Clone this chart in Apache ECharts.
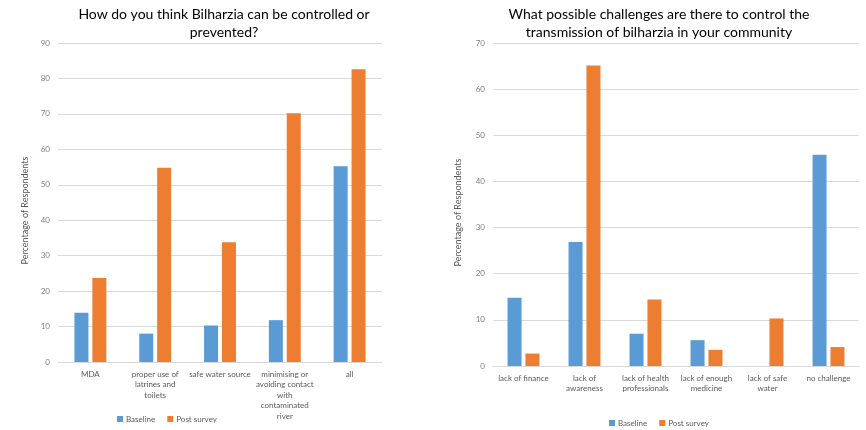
<!DOCTYPE html>
<html>
<head>
<meta charset="utf-8">
<script src="https://cdn.jsdelivr.net/npm/echarts@6/dist/echarts.min.js"></script>
<style>
  html, body { margin: 0; padding: 0; background: #fff; }
  #main { width: 866px; height: 430px; }
</style>
</head>
<body>
<div id="main"></div>
<script>
// left chart: how can bilharzia be controlled
var controlCats = ['MDA', 'proper use of\nlatrines and\ntoilets', 'safe water source',
  'minimising or\navoiding contact\nwith\ncontaminated\nriver', 'all'];
var controlBaseline = [13.9, 8, 10.3, 11.8, 55.2];
var controlPost = [23.7, 54.8, 33.8, 70.2, 82.6];

// right chart: challenges
var challengeCats = ['lack of finance', 'lack of\nawareness', 'lack of health\nprofessionals',
  'lack of enough\nmedicine', 'lack of safe\nwater', 'no challenge'];
var challengeBaseline = [14.8, 26.9, 7.0, 5.6, 0, 45.8];
var challengePost = [2.7, 65.1, 14.4, 3.5, 10.3, 4.1];

var blue = '#5B9BD5';
var orange = '#ED7D31';
var font = 'Lato, "Open Sans", sans-serif';

var dom = document.getElementById('main');
var myChart = echarts.init(dom, null, { renderer: 'canvas' });

function yAxis(idx, max) {
  return {
    type: 'value',
    gridIndex: idx,
    min: 0,
    max: max,
    interval: 10,
    name: 'Percentage of Respondents',
    nameLocation: 'middle',
    nameGap: idx === 0 ? 28 : 30,
    // push the rotated name a bit below the plot centre, like the original
    nameTextStyle: { color: '#595959', fontSize: 9, fontFamily: font, padding: [0, 16, 0, 0] },
    axisLine: { show: false },
    axisTick: { show: false },
    axisLabel: { color: '#7f7f7f', fontSize: 8, fontFamily: font, margin: 8 },
    splitLine: { lineStyle: { color: '#d9d9d9', width: 1 } }
  };
}

function xAxis(idx, cats) {
  return {
    type: 'category',
    gridIndex: idx,
    data: cats,
    axisLine: { lineStyle: { color: '#d9d9d9' } },
    axisTick: { show: false },
    axisLabel: {
      color: '#595959', fontSize: 8, fontFamily: font,
      lineHeight: 10.5, interval: 0, margin: 7
    }
  };
}

function bar(name, idx, data, color) {
  return {
    name: name,
    type: 'bar',
    xAxisIndex: idx,
    yAxisIndex: idx,
    data: data,
    barWidth: 14,
    barGap: '28%',
    itemStyle: { color: color },
    animation: false
  };
}

option = {
  animation: false,
  textStyle: { fontFamily: font },
  title: [
    {
      text: 'How do you think Bilharzia can be controlled or\nprevented?',
      left: 219, top: 0, textAlign: 'center',
      textStyle: { fontSize: 14, fontWeight: 'normal', color: '#000', lineHeight: 18, fontFamily: font }
    },
    {
      text: 'What possible challenges are there to control the\ntransmission of bilharzia in your community',
      left: 654, top: 0, textAlign: 'center',
      textStyle: { fontSize: 14, fontWeight: 'normal', color: '#000', lineHeight: 18, fontFamily: font }
    }
  ],
  legend: [
    {
      data: ['Baseline', 'Post survey'],
      left: 112, top: 410,
      itemWidth: 6, itemHeight: 6, itemGap: 12,
      icon: 'rect',
      textStyle: { color: '#595959', fontSize: 8, fontFamily: font, padding: [0, 0, 0, -2] }
    },
    {
      data: ['Baseline', 'Post survey'],
      left: 604, top: 414,
      itemWidth: 6, itemHeight: 6, itemGap: 12,
      icon: 'rect',
      textStyle: { color: '#595959', fontSize: 8, fontFamily: font, padding: [0, 0, 0, -2] }
    }
  ],
  grid: [
    { left: 58, right: 484, top: 43, bottom: 68 },
    { left: 493, right: 7, top: 43, bottom: 64 }
  ],
  xAxis: [xAxis(0, controlCats), xAxis(1, challengeCats)],
  yAxis: [yAxis(0, 90), yAxis(1, 70)],
  series: [
    bar('Baseline', 0, controlBaseline, blue),
    bar('Post survey', 0, controlPost, orange),
    bar('Baseline', 1, challengeBaseline, blue),
    bar('Post survey', 1, challengePost, orange)
  ]
};

myChart.setOption(option);
window.addEventListener('resize', myChart.resize);
</script>
</body>
</html>
